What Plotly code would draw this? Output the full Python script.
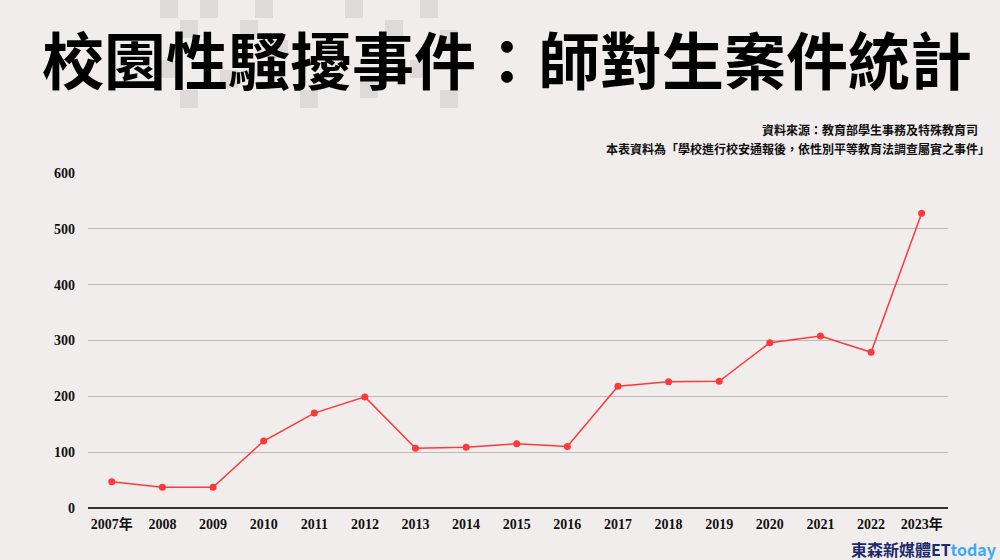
import plotly.graph_objects as go

years = list(range(2007, 2024))
year_labels = ["<b>2007年</b>"] + ["<b>%d</b>" % y for y in range(2008, 2023)] + ["<b>2023年</b>"]
cases = [47, 37, 37, 120, 170, 199, 107, 109, 115, 110, 218, 226, 227, 296, 308, 279, 528]
y_ticks = [0, 100, 200, 300, 400, 500, 600]

L, R, T, B = 88, 948, 173, 508
def px(x): return (x - L) / (R - L)
def py(y): return (B - y) / (B - T)

fig = go.Figure()
fig.add_trace(go.Scatter(x=years, y=cases, mode="lines+markers",
                         line=dict(color="#ff3838", width=1.5),
                         marker=dict(color="#ff3838", size=7), cliponaxis=False))

sq = [(160,0),(200,0),(240,20),(180,20),(345,0),(385,20),(420,0),(160,60),(220,70),(270,40),
      (360,80),(410,60),(180,90),(300,90),(440,90),(255,0),(320,40),(440,30)]
for (x0, y0) in sq:
    fig.add_shape(type="rect", xref="paper", yref="paper", layer="below",
                  x0=px(x0), x1=px(x0+18), y0=py(y0+18), y1=py(y0),
                  fillcolor="#dedada", line_width=0)

fig.update_layout(
    width=1000, height=560, paper_bgcolor="#f1eded", plot_bgcolor="#f1eded",
    margin=dict(l=L, r=1000-R, t=T, b=560-B), showlegend=False,
    font=dict(family="Liberation Serif", color="#222", size=14),
    xaxis=dict(tickmode="array", tickvals=years, ticktext=year_labels, range=[2006.53, 2023.52],
               showgrid=False, zeroline=False, showline=False, ticks="", ticklabelstandoff=6,
               tickfont=dict(family="Liberation Serif, Noto Sans CJK TC", size=14, color="#111")),
    yaxis=dict(range=[0, 600], tickvals=y_ticks, ticktext=["<b>%d</b>" % v for v in y_ticks],
               gridcolor="#bdb9b9",
               zeroline=True, zerolinecolor="#333", zerolinewidth=1.5, ticks="", ticklabelstandoff=12,
               tickfont=dict(family="Liberation Serif", size=14, color="#111")),
    annotations=[
        dict(text="<b>校園性騷擾事件：師對生案件統計</b>", x=px(507), y=py(58), xref="paper", yref="paper",
             showarrow=False, font=dict(family="Noto Sans CJK TC", size=62, color="#000"), yanchor="middle"),
        dict(text="<b>資料來源：教育部學生事務及特殊教育司</b>", x=px(980), y=py(130), xref="paper", yref="paper",
             xanchor="right", yanchor="middle", showarrow=False, font=dict(family="Noto Sans CJK TC", size=12, color="#111")),
        dict(text="<b>本表資料為「學校進行校安通報後，依性別平等教育法調查屬實之事件」</b>", x=px(992), y=py(148),
             xref="paper", yref="paper", xanchor="right", yanchor="middle", showarrow=False,
             font=dict(family="Noto Sans CJK TC", size=12, color="#111")),
        dict(text="<b>東森新媒體<span style='color:#1d2a6b'>ET</span><span style='color:#3fa9f5'>today</span></b>",
             x=px(998), y=py(549), xref="paper", yref="paper", xanchor="right", yanchor="middle", showarrow=False,
             font=dict(family="Noto Sans CJK TC", size=16, color="#1d2a6b")),
    ],
)
fig.write_html("out.html", config={"displayModeBar": False},
               post_script="document.body.style.margin='0';document.body.style.overflow='hidden';")
